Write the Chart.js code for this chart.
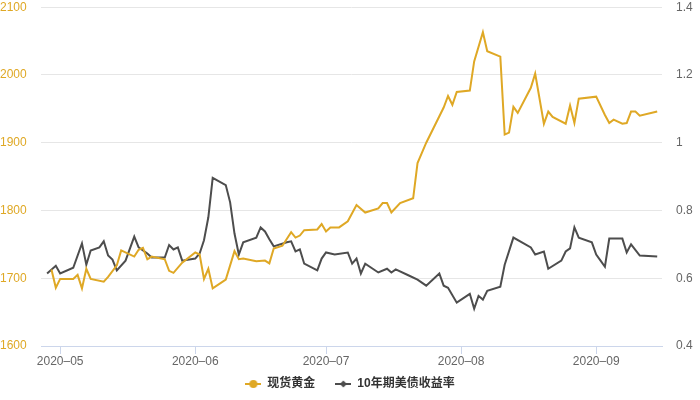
<!DOCTYPE html>
<html>
<head>
<meta charset="utf-8">
<script src="https://cdn.jsdelivr.net/npm/chart.js@4"></script>
<style>
html,body{margin:0;padding:0;background:#fff;}
#c{display:block;}
</style>
</head>
<body>
<canvas id="c" width="700" height="400"></canvas>
<script>
const YEAR = 2020;
const seriesNames = ['现货黄金', '10年期美债收益率'];

const goldDates = ['04-29','04-30','05-01','05-04','05-05','05-06','05-07','05-08','05-11','05-12',
  '05-14','05-15','05-18','05-19','05-20','05-21','05-22','05-25','05-26','05-27',
  '05-29','06-01','06-02','06-03','06-04','06-05','06-08','06-10','06-11','06-12',
  '06-15','06-17','06-18','06-19','06-21','06-23','06-24','06-25','06-26','06-29',
  '06-30','07-01','07-02','07-04','07-06','07-08','07-10','07-13','07-14','07-15',
  '07-16','07-18','07-21','07-22','07-24','07-28','07-29','07-30','07-31','08-03',
  '08-04','08-06','08-07','08-10','08-11','08-12','08-13','08-14','08-17','08-18',
  '08-20','08-21','08-22','08-25','08-26','08-27','08-28','09-01','09-03','09-04',
  '09-05','09-07','09-08','09-09','09-10','09-11','09-15'];
const goldValues = [1713,1686,1699,1699,1705,1685,1714,1699,1695,1702,
  1719,1741,1732,1742,1745,1728,1732,1728,1711,1708,
  1723,1738,1735,1699,1714,1685,1698,1740,1728,1729,
  1725,1726,1722,1744,1748,1768,1760,1763,1771,1772,
  1780,1769,1775,1775,1784,1808,1797,1803,1811,1811,
  1797,1811,1818,1870,1900,1952,1969,1956,1975,1977,
  2020,2063,2035,2027,1912,1915,1953,1944,1981,2002,
  1928,1946,1938,1928,1955,1929,1965,1968,1941,1929,
  1934,1928,1929,1946,1946,1940,1946];

const yieldDates = ['04-28','04-30','05-01','05-04','05-06','05-07','05-08','05-10','05-11','05-12',
  '05-13','05-14','05-16','05-18','05-19','05-21','05-22','05-25','05-26','05-27',
  '05-28','05-29','06-01','06-02','06-03','06-04','06-05','06-08','06-09','06-10',
  '06-11','06-12','06-15','06-16','06-17','06-18','06-19','06-22','06-23','06-24',
  '06-25','06-26','06-29','06-30','07-01','07-03','07-06','07-07','07-08','07-09',
  '07-10','07-13','07-15','07-16','07-17','07-20','07-22','07-24','07-27','07-28',
  '07-29','07-31','08-03','08-04','08-05','08-06','08-07','08-10','08-11','08-13',
  '08-17','08-18','08-20','08-21','08-24','08-25','08-26','08-27','08-28','08-31',
  '09-01','09-02','09-03','09-04','09-07','09-08','09-09','09-11','09-15'];
const yieldValues = [0.614,0.637,0.614,0.631,0.703,0.640,0.682,0.691,0.709,0.667,
  0.655,0.623,0.652,0.723,0.691,0.673,0.661,0.661,0.698,0.685,
  0.691,0.652,0.658,0.673,0.712,0.780,0.896,0.875,0.824,0.732,
  0.670,0.706,0.720,0.750,0.738,0.715,0.694,0.706,0.709,0.679,
  0.685,0.643,0.623,0.658,0.676,0.670,0.676,0.643,0.658,0.614,
  0.643,0.617,0.628,0.617,0.626,0.608,0.596,0.578,0.614,0.578,
  0.572,0.528,0.554,0.510,0.548,0.537,0.563,0.575,0.640,0.720,
  0.691,0.670,0.679,0.628,0.652,0.679,0.688,0.750,0.720,0.706,
  0.670,0.652,0.634,0.717,0.717,0.676,0.700,0.667,0.664];

const monthTickDates = ['05-01','06-01','07-01','08-01','09-01'];
const monthTickLabels = ['2020–05','2020–06','2020–07','2020–08','2020–09'];
const goldTicks = [1600,1700,1800,1900,2000,2100];
const yieldTicks = [0.4,0.6,0.8,1.0,1.2,1.4];

const GOLD = '#dfa825';
const GRAY = '#4d4d4d';

function dayNum(s){
  const [m,d] = s.split('-').map(Number);
  return Date.UTC(YEAR, m-1, d) / 86400000;
}
const tickDays = monthTickDates.map(dayNum);
const xMin = dayNum('05-01') - 4.4;
const xMax = dayNum('05-01') + 138.1;

function legendSymbol(color, shape){
  const c = document.createElement('canvas');
  c.width = 16; c.height = 10;
  const g = c.getContext('2d');
  g.strokeStyle = color; g.lineWidth = 2;
  g.beginPath(); g.moveTo(0,5); g.lineTo(16,5); g.stroke();
  g.fillStyle = color;
  g.beginPath();
  if (shape === 'circle') { g.arc(8,5,4,0,Math.PI*2); }
  else { g.moveTo(8,1.5); g.lineTo(11.5,5); g.lineTo(8,8.5); g.lineTo(4.5,5); g.closePath(); }
  g.fill();
  return c;
}

Chart.defaults.font.family = "'Liberation Sans', 'Noto Sans CJK SC', sans-serif";
Chart.defaults.font.size = 12;

new Chart(document.getElementById('c'), {
  type: 'line',
  data: {
    datasets: [
      {
        label: seriesNames[0],
        data: goldDates.map((d,i)=>({x: dayNum(d), y: goldValues[i]})),
        borderColor: GOLD, backgroundColor: GOLD, borderWidth: 2,
        pointRadius: 0, pointHoverRadius: 0, pointStyle: legendSymbol(GOLD,'circle'),
        tension: 0, yAxisID: 'y'
      },
      {
        label: seriesNames[1],
        data: yieldDates.map((d,i)=>({x: dayNum(d), y: yieldValues[i]})),
        borderColor: GRAY, backgroundColor: GRAY, borderWidth: 2,
        pointRadius: 0, pointHoverRadius: 0, pointStyle: legendSymbol(GRAY,'diamond'),
        tension: 0, yAxisID: 'y1'
      }
    ]
  },
  options: {
    responsive: false,
    animation: false,
    layout: {padding: {top: 1, left: 0, right: 0, bottom: 0}},
    plugins: {
      legend: {
        position: 'bottom',
        labels: {
          usePointStyle: true, pointStyleWidth: 16, padding: 20,
          color: '#333', font: {size: 12, weight: 'bold'}
        }
      },
      tooltip: {enabled: false}
    },
    scales: {
      x: {
        type: 'linear', min: xMin, max: xMax,
        afterBuildTicks: s => { s.ticks = tickDays.map(v => ({value: v})); },
        ticks: {
          autoSkip: false, maxRotation: 0, color: '#666', padding: 0,
          callback: v => { const i = tickDays.indexOf(v); return i >= 0 ? monthTickLabels[i] : ''; }
        },
        grid: {drawOnChartArea: false, drawTicks: true, tickLength: 8, color: '#ccd6eb'},
        border: {color: '#ccd6eb'},
        afterFit: s => { s.height = 12; s._computeLabelArea = () => undefined; }
      },
      y: {
        position: 'left', min: 1600, max: 2100,
        afterBuildTicks: s => { s.ticks = goldTicks.map(v => ({value: v})); },
        ticks: {color: GOLD, padding: 0, crossAlign: 'far', callback: v => String(v)},
        grid: {color: '#e6e6e6', drawTicks: true, tickLength: 15, tickColor: 'rgba(0,0,0,0)'},
        border: {display: false},
        afterFit: s => { s.width = 41; }
      },
      y1: {
        position: 'right', min: 0.4, max: 1.4,
        afterBuildTicks: s => { s.ticks = yieldTicks.map(v => ({value: v})); },
        ticks: {color: '#666', padding: 0, callback: v => String(Math.round(v*10)/10)},
        grid: {drawOnChartArea: false, drawTicks: true, tickLength: 14, tickColor: 'rgba(0,0,0,0)'},
        border: {display: false},
        afterFit: s => { s.width = 38; }
      }
    }
  }
});
</script>
</body>
</html>
